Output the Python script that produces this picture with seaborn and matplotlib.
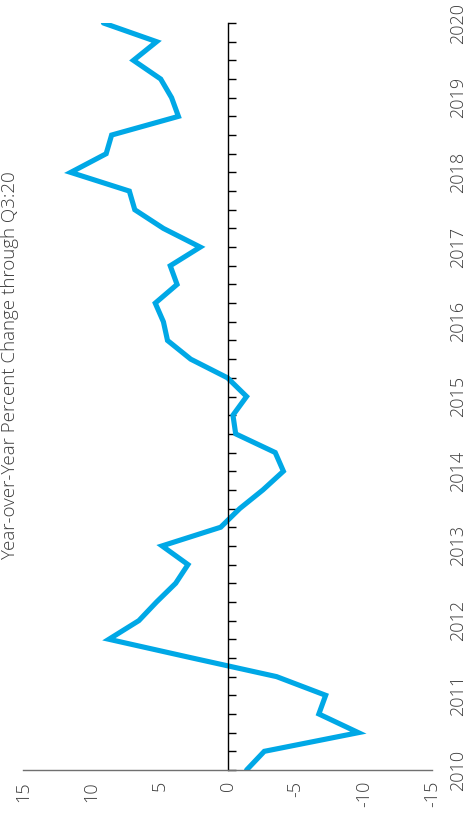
import numpy as np
import pandas as pd
import matplotlib
matplotlib.use("Agg")
import matplotlib.pyplot as plt
import seaborn as sns

# %% data: year-over-year percent change, quarterly 2010 -> 2020
quarter_index = list(range(41))
pct_change = [-1.4, -2.7, -9.6, -6.7, -7.2, -3.6, 2.6, 8.7, 6.5, 5.2, 3.8, 2.9,
              4.8, 0.5, -0.9, -2.6, -4.1, -3.5, -0.6, -0.4, -1.4, 0.0, 2.7, 4.4,
              4.7, 5.3, 3.7, 4.2, 2.0, 4.7, 6.8, 7.2, 11.5, 8.9, 8.5, 3.6,
              4.1, 4.9, 6.9, 5.2, 9.1]
year_labels = ['2010', '2011', '2012', '2013', '2014', '2015',
               '2016', '2017', '2018', '2019', '2020']
value_ticks = [15, 10, 5, 0, -5, -10, -15]
value_labels = ['15', '10', '5', '0', '-5', '-10', '-15']
title = 'Year-over-Year Percent Change through Q3:20'

df = pd.DataFrame({'t': [2010 + q / 4 for q in quarter_index], 'pct': pct_change})

# %% plot (chart is drawn rotated: values run right-to-left, time bottom-to-top)
sns.set_style('white')
plt.rcParams['font.family'] = ['Open Sans', 'DejaVu Sans']
text_color = '#3c3c3c'
font_w = 'light'

fig = plt.figure(figsize=(4.67, 8.33), dpi=100)
ax = fig.add_axes([23 / 467, 63 / 833, 409 / 467, 747 / 833])

sns.lineplot(data=df, x='pct', y='t', sort=False, estimator=None,
             color='#00a8e6', lw=3.7, ax=ax, solid_joinstyle='miter')

ax.set_xlim(15, -15)
ax.set_ylim(2010, 2020)

for s in ['top', 'right']:
    ax.spines[s].set_visible(False)
ax.spines['left'].set_position(('data', 0))
ax.spines['left'].set_color('black')
ax.spines['left'].set_linewidth(1.0)
ax.spines['bottom'].set_color('#707070')
ax.spines['bottom'].set_linewidth(1.0)

ax.set_yticks([2010 + q / 4 for q in quarter_index])
ax.tick_params(axis='y', direction='in', length=5.5, width=1.0, color='black',
               labelleft=False)
ax.set_xticks(value_ticks)
ax.set_xticklabels(value_labels, rotation=90, color=text_color,
                   fontsize=13, fontweight=font_w)
ax.tick_params(axis='x', direction='out', length=6, width=1.0, color='#707070', pad=2)
ax.set_xlabel('')
ax.set_ylabel('')

# year labels on the right side
ax2 = ax.twinx()
ax2.set_ylim(2010, 2020)
ax2.set_yticks([int(y) for y in year_labels])
ax2.set_yticklabels(year_labels, rotation=90, va='center', color=text_color,
                    fontsize=13, fontweight=font_w)
ax2.tick_params(axis='y', length=0, pad=12)
for s in ax2.spines.values():
    s.set_visible(False)

# title sits along the left edge, rotated with the chart
fig.text(1 / 467, 1 - 365 / 833, title, rotation=90, ha='left', va='center',
         color=text_color, fontsize=13.5, fontweight=font_w)

plt.savefig('out.png', dpi=100)
